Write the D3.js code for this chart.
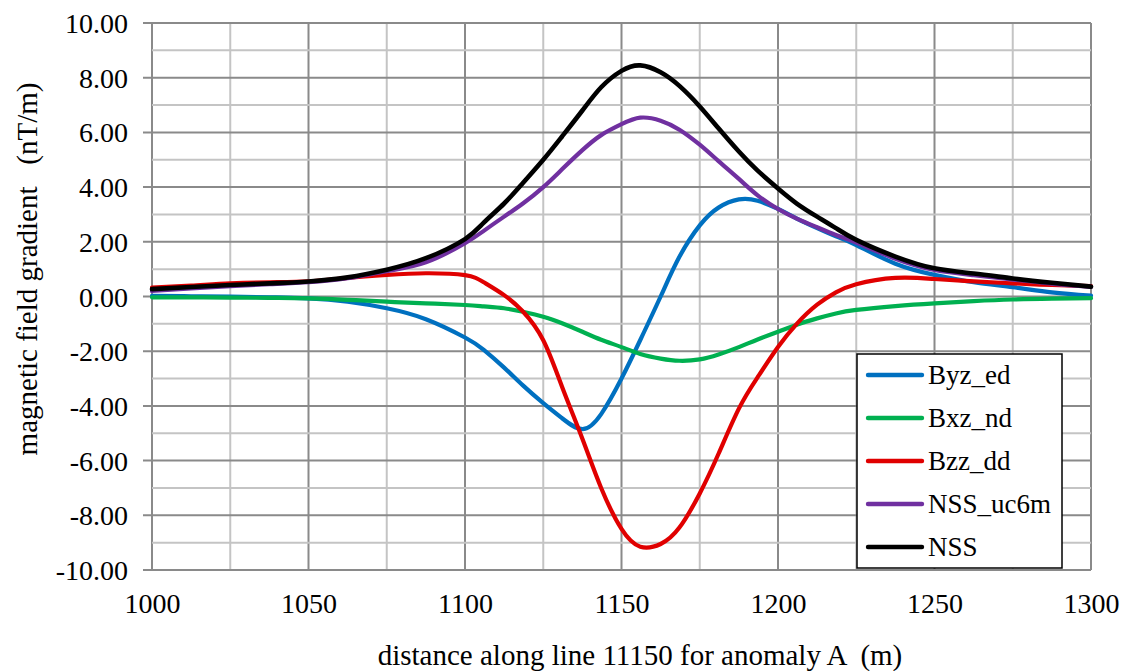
<!DOCTYPE html>
<html>
<head>
<meta charset="utf-8">
<script src="https://cdn.jsdelivr.net/npm/d3@7/dist/d3.min.js"></script>
<style>
  html, body { margin: 0; padding: 0; background: #fff; }
  svg text { font-family: "Liberation Serif", "DejaVu Serif", serif; fill: #000; white-space: pre; }
</style>
</head>
<body>
<svg id="chart" width="1123" height="671"></svg>
<script>
// Sample positions along the profile (m)
const distance = [1000, 1012.5, 1025, 1037.5, 1050, 1062.5, 1075, 1087.5, 1100, 1106, 1112.5, 1118.5,
  1125, 1131, 1137.5, 1143.5, 1150, 1156, 1162.5, 1168.5, 1175, 1181, 1187.5, 1193.5,
  1200, 1206, 1212.5, 1218.5, 1225, 1237.5, 1250, 1262.5, 1275, 1287.5, 1300];

// Gradient components (nT/m)
const byzEd = [0.02, 0.01, 0.0, -0.03, -0.07, -0.19, -0.43, -0.83, -1.5, -1.95, -2.6, -3.25,
  -3.9, -4.45, -4.85, -4.3, -3.0, -1.59, 0.0, 1.45, 2.6, 3.25, 3.55, 3.5,
  3.2, 2.85, 2.5, 2.2, 1.88, 1.2, 0.79, 0.52, 0.34, 0.15, 0.03];
const bxzNd = [-0.03, -0.03, -0.04, -0.05, -0.07, -0.12, -0.19, -0.25, -0.31, -0.36, -0.43, -0.56,
  -0.74, -0.98, -1.29, -1.58, -1.85, -2.1, -2.27, -2.35, -2.3, -2.12, -1.85, -1.57,
  -1.29, -1.03, -0.8, -0.62, -0.49, -0.35, -0.25, -0.17, -0.11, -0.08, -0.06];
const bzzDd = [0.33, 0.4, 0.48, 0.52, 0.55, 0.68, 0.79, 0.85, 0.78, 0.52, 0.05, -0.55,
  -1.6, -3.3, -5.2, -7.0, -8.5, -9.15, -9.05, -8.45, -7.2, -5.75, -4.1, -2.95,
  -1.85, -1.0, -0.3, 0.15, 0.45, 0.68, 0.64, 0.55, 0.48, 0.42, 0.38];
const nssUc6m = [0.2, 0.3, 0.38, 0.45, 0.52, 0.67, 0.93, 1.25, 1.95, 2.4, 2.92, 3.4,
  4.0, 4.65, 5.35, 5.9, 6.3, 6.54, 6.43, 6.1, 5.55, 4.95, 4.3, 3.7,
  3.2, 2.85, 2.53, 2.25, 1.97, 1.38, 0.97, 0.78, 0.62, 0.47, 0.35];
const nss = [0.27, 0.35, 0.42, 0.48, 0.55, 0.7, 0.98, 1.4, 2.1, 2.7, 3.4, 4.15,
  5.0, 5.85, 6.8, 7.65, 8.25, 8.45, 8.2, 7.7, 6.95, 6.15, 5.3, 4.6,
  3.95, 3.4, 2.92, 2.5, 2.07, 1.46, 1.03, 0.84, 0.66, 0.5, 0.36];

const seriesNames = ["Byz_ed", "Bxz_nd", "Bzz_dd", "NSS_uc6m", "NSS"];
const seriesValues = [byzEd, bxzNd, bzzDd, nssUc6m, nss];
const seriesColors = ["#0070C0", "#00B050", "#E00000", "#7030A0", "#000000"];

const xTicks = [1000, 1050, 1100, 1150, 1200, 1250, 1300];
const yTicks = [-10, -8, -6, -4, -2, 0, 2, 4, 6, 8, 10];

const xTitle = "distance along line 11150 for anomaly A  (m)";
const yTitle = "magnetic field gradient   (nT/m)";

const serif = "'Liberation Serif', 'DejaVu Serif', serif";
const svg = d3.select("#chart");
const x = d3.scaleLinear().domain([1000, 1300]).range([152, 1091]);
const y = d3.scaleLinear().domain([-10, 10]).range([570, 23]);

// Gridlines: minor every 25 m / 1 nT/m, major every 50 m / 2 nT/m
const grid = svg.append("g");
d3.range(1000, 1301, 25).forEach(v => {
  const major = v % 50 === 0;
  grid.append("line")
    .attr("x1", x(v)).attr("x2", x(v)).attr("y1", y(10)).attr("y2", y(-10))
    .attr("stroke", major ? "#8a8a8a" : "#c4c4c4").attr("stroke-width", 2);
});
d3.range(-10, 11, 1).forEach(v => {
  const major = v % 2 === 0;
  grid.append("line")
    .attr("x1", x(1000) - (major ? 9 : 0)).attr("x2", x(1300)).attr("y1", y(v)).attr("y2", y(v))
    .attr("stroke", major ? "#8a8a8a" : "#c4c4c4").attr("stroke-width", 2);
});

// Axes (labels only; lines come from the grid)
const yAxis = svg.append("g").attr("transform", `translate(${x(1000) - 24},0)`)
  .call(d3.axisLeft(y).tickValues(yTicks).tickFormat(d => d.toFixed(2)).tickSize(0));
yAxis.attr("font-family", serif);
yAxis.select(".domain").remove();
yAxis.selectAll("text").attr("font-size", 28).style("font-family", serif).attr("dy", "0.34em").attr("x", 0);

const xAxis = svg.append("g").attr("transform", `translate(0,${y(-10)})`)
  .call(d3.axisBottom(x).tickValues(xTicks).tickFormat(d => String(d)).tickSize(0));
xAxis.attr("font-family", serif);
xAxis.select(".domain").remove();
xAxis.selectAll("text").attr("font-size", 28).style("font-family", serif).attr("y", 33).attr("dy", "0.34em");

// Series lines
const line = d3.line()
  .x((d, i) => x(distance[i]))
  .y(d => y(d))
  .curve(d3.curveNatural);

seriesValues.forEach((vals, k) => {
  svg.append("path")
    .datum(vals)
    .attr("d", line)
    .attr("fill", "none")
    .attr("stroke", seriesColors[k])
    .attr("stroke-width", k === 4 ? 4.6 : 4.2)
    .attr("stroke-linejoin", "round")
    .attr("stroke-linecap", "round");
});

// Axis titles
svg.append("text")
  .attr("x", 640).attr("y", 665)
  .attr("text-anchor", "middle").attr("font-size", 29).style("font-family", serif)
  .text(xTitle);
svg.append("text")
  .attr("transform", "translate(37,269) rotate(-90)")
  .attr("text-anchor", "middle").attr("font-size", 29).style("font-family", serif)
  .text(yTitle);

// Legend
const legend = svg.append("g");
legend.append("rect")
  .attr("x", 857).attr("y", 354).attr("width", 205).attr("height", 214)
  .attr("fill", "#fff").attr("stroke", "#000").attr("stroke-width", 1.5);
seriesNames.forEach((name, k) => {
  const cy = 375 + k * 43;
  legend.append("line")
    .attr("x1", 868).attr("x2", 922).attr("y1", cy).attr("y2", cy)
    .attr("stroke", seriesColors[k]).attr("stroke-width", 4.4).attr("stroke-linecap", "round");
  legend.append("text")
    .attr("x", 928).attr("y", cy).attr("dy", "0.34em")
    .attr("font-size", 27).style("font-family", serif)
    .text(name);
});
</script>
</body>
</html>
